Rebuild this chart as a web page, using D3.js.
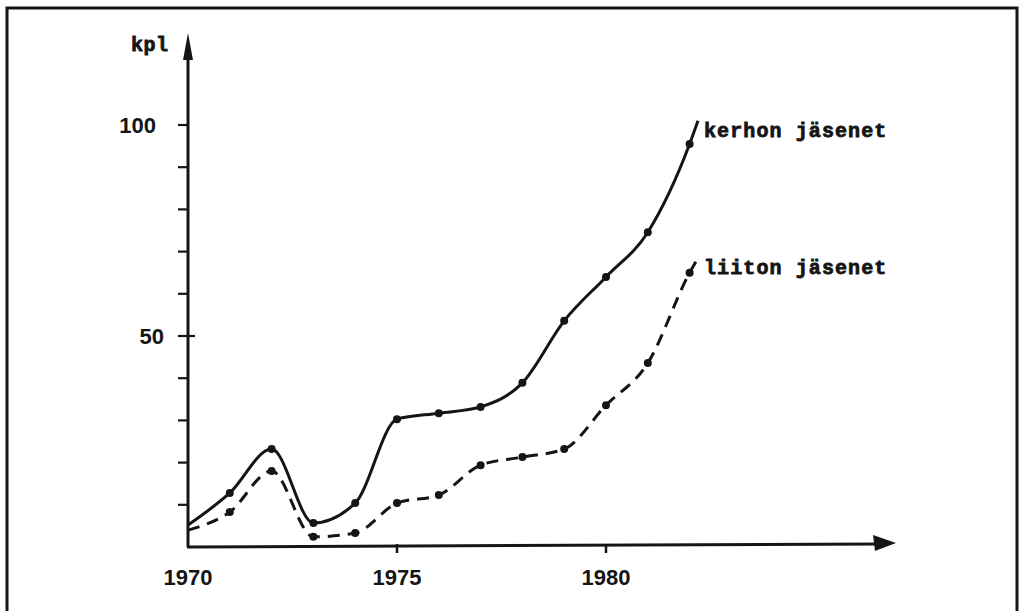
<!DOCTYPE html>
<html>
<head>
<meta charset="utf-8">
<script src="https://cdn.jsdelivr.net/npm/d3@7"></script>
<style>
  body { margin: 0; background: #fff; }
  svg { display: block; }
</style>
</head>
<body>
<svg id="chart" width="1023" height="611"></svg>
<script>
// years on the x axis, the line runs a bit past the last dot
let years = [1970, 1971, 1972, 1973, 1974, 1975, 1976, 1977, 1978, 1979, 1980, 1981, 1982, 1982.2];
let kerho = [5.2, 12.8, 23.2, 5.7, 10.4, 30.3, 31.7, 33.2, 38.9, 53.6, 64.0, 74.6, 95.5, 101];
let liitto = [4.0, 8.3, 18.0, 2.4, 3.3, 10.4, 12.3, 19.4, 21.3, 23.2, 33.6, 43.6, 65.0, 68.5];
let dotYears = [1971, 1972, 1973, 1974, 1975, 1976, 1977, 1978, 1979, 1980, 1981, 1982];
let yTicks = [10, 20, 30, 40, 50, 60, 70, 80, 90, 100];
let yLabels = [50, 100];
let xLabels = [1970, 1975, 1980];
let xTickMarks = [1975, 1980];

let ink = '#151515';
let svg = d3.select('#chart');

// frame of the scanned page
svg.append('rect')
    .attr('x', 7).attr('y', 8)
    .attr('width', 1010).attr('height', 620)
    .attr('fill', 'none')
    .attr('stroke', ink)
    .attr('stroke-width', 3);

let x = d3.scaleLinear().domain([1970, 1980]).range([188, 606]);
let y = d3.scaleLinear().domain([0, 100]).range([547, 125]);

let g = svg.append('g');

// y axis with arrow
g.append('line')
    .attr('x1', x(1970)).attr('x2', x(1970))
    .attr('y1', y(0)).attr('y2', 50)
    .attr('stroke', ink).attr('stroke-width', 3);
g.append('path')
    .attr('d', 'M ' + x(1970) + ',33 L ' + (x(1970) - 5) + ',60 L ' + (x(1970) + 5) + ',60 Z')
    .attr('fill', ink);

// x axis with arrow
g.append('line')
    .attr('x1', x(1970) - 1).attr('x2', 880)
    .attr('y1', y(0)).attr('y2', y(0) - 3)
    .attr('stroke', ink).attr('stroke-width', 3);
g.append('path')
    .attr('d', 'M 896,' + (y(0) - 4) + ' L 873,' + (y(0) - 12) + ' L 875,' + (y(0) + 4) + ' Z')
    .attr('fill', ink);

// y ticks
g.selectAll('.yt')
    .data(yTicks)
    .enter()
    .append('line')
    .attr('class', 'yt')
    .attr('x1', x(1970) - 10)
    .attr('x2', d => d === 50 ? x(1970) + 7 : x(1970))
    .attr('y1', d => y(d)).attr('y2', d => y(d))
    .attr('stroke', ink).attr('stroke-width', 2.2);

g.selectAll('.yl')
    .data(yLabels)
    .enter()
    .append('text')
    .attr('class', 'yl')
    .attr('x', d => d === 100 ? x(1970) - 32 : x(1970) - 24)
    .attr('y', d => y(d) + 8)
    .attr('text-anchor', 'end')
    .style('font', 'bold 22px "Liberation Sans", Arial, sans-serif')
    .attr('fill', ink)
    .text(d => d);

// x ticks
g.selectAll('.xt')
    .data(xTickMarks)
    .enter()
    .append('line')
    .attr('class', 'xt')
    .attr('x1', d => x(d)).attr('x2', d => x(d))
    .attr('y1', d => y(0) - 3).attr('y2', d => y(0) + 6)
    .attr('stroke', ink).attr('stroke-width', 2.5);

g.selectAll('.xl')
    .data(xLabels)
    .enter()
    .append('text')
    .attr('class', 'xl')
    .attr('x', d => x(d))
    .attr('y', 585)
    .attr('text-anchor', 'middle')
    .style('font', 'bold 22px "Liberation Sans", Arial, sans-serif')
    .attr('fill', ink)
    .text(d => d);

// typewriter lettering, a thin stroke makes it as heavy as the original
let typeFont = 'bold 20px "Liberation Mono", "Courier New", monospace';

g.append('text')
    .attr('x', 131).attr('y', 51)
    .style('font', typeFont)
    .style('letter-spacing', '0.5px')
    .attr('fill', ink)
    .attr('stroke', ink).attr('stroke-width', 0.8)
    .text('kpl');

// the two series
let line = d3.line()
    .x(d => x(d[0]))
    .y(d => y(d[1]))
    .curve(d3.curveMonotoneX);

function draw_series(vals, dash, label, ly, cls) {
    let pts = years.map((yr, i) => [yr, vals[i]]);
    g.append('path')
        .datum(pts)
        .attr('d', line)
        .attr('fill', 'none')
        .attr('stroke', ink)
        .attr('stroke-width', 3)
        .attr('stroke-dasharray', dash);

    g.selectAll('.' + cls)
        .data(pts.filter(p => dotYears.includes(p[0])))
        .enter()
        .append('circle')
        .attr('class', cls)
        .attr('cx', d => x(d[0]))
        .attr('cy', d => y(d[1]))
        .attr('r', 4)
        .attr('fill', ink);

    g.append('text')
        .attr('x', 704).attr('y', ly)
        .style('font', typeFont)
        .style('letter-spacing', '1.1px')
        .attr('fill', ink)
        .attr('stroke', ink).attr('stroke-width', 0.8)
        .text(label);
}

draw_series(kerho, null, 'kerhon jäsenet', 137, 'kdot');
draw_series(liitto, '12,8', 'liiton jäsenet', 274, 'ldot');
</script>
</body>
</html>
